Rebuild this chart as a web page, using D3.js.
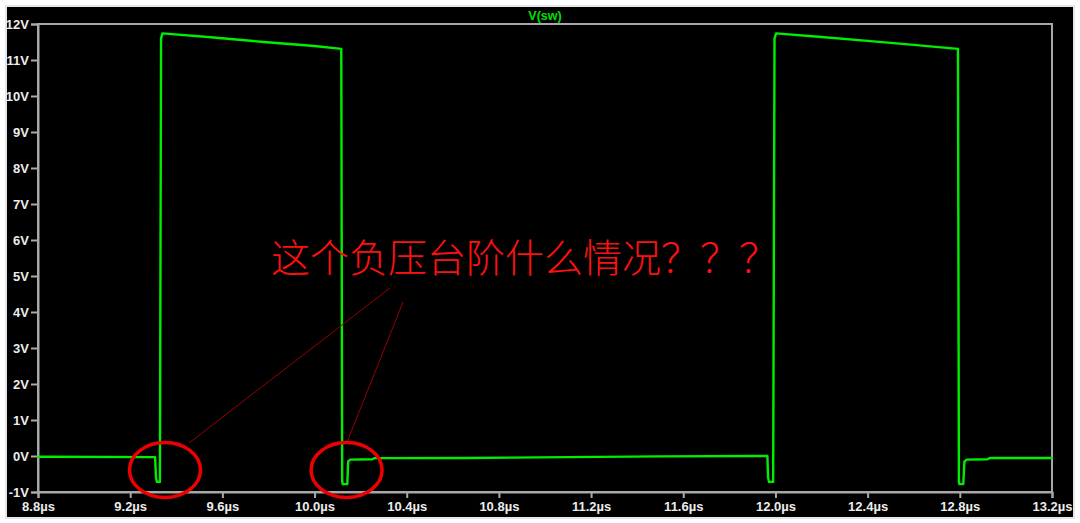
<!DOCTYPE html>
<html>
<head>
<meta charset="utf-8">
<script src="https://cdn.jsdelivr.net/npm/d3@7"></script>
<style>
html,body{margin:0;padding:0;background:#fff;}
svg{display:block;}
</style>
</head>
<body>
<svg id="c" width="1080" height="523"></svg>
<script>
// ---- data (time in µs, voltage in V) ----
const times = [8.80, 8.85, 9.308, 9.312, 9.316, 9.329, 9.334, 9.340, 9.55, 9.78, 10.00, 10.116,
               10.120, 10.122, 10.142, 10.146, 10.155, 10.25, 10.26, 10.65, 11.10, 11.50, 11.965,
               11.968, 11.972, 11.990, 11.996, 12.003, 12.20, 12.40, 12.60, 12.792,
               12.796, 12.798, 12.815, 12.820, 12.830, 12.92, 12.93, 13.20];
const volts = [-0.02, -0.02, -0.03, -0.60, -0.72, -0.72, 11.60, 11.74, 11.63, 11.50, 11.39, 11.31,
               -0.70, -0.78, -0.78, -0.15, -0.10, -0.09, -0.06, -0.055, -0.03, -0.01, 0.00,
               -0.60, -0.72, -0.72, 11.60, 11.74, 11.64, 11.53, 11.42, 11.31,
               -0.70, -0.78, -0.78, -0.15, -0.10, -0.09, -0.055, -0.055];
const yTicks = [-1,0,1,2,3,4,5,6,7,8,9,10,11,12];
const xTicks = [8.8,9.2,9.6,10.0,10.4,10.8,11.2,11.6,12.0,12.4,12.8,13.2];
const traceName = "V(sw)";
const note = "这个负压台阶什么情况？？？";
// annotation targets (time µs, voltage V) for the circled negative steps
const markTimes = [9.351, 10.139];
const markVolts = [-0.39, -0.39];

const svg = d3.select("#c");
// frame
svg.append("rect").attr("x",0).attr("y",0).attr("width",1080).attr("height",523).attr("fill","#fff");
svg.append("rect").attr("x",5).attr("y",5).attr("width",1070).attr("height",514).attr("fill","#e6e6e6");
svg.append("rect").attr("x",7).attr("y",7).attr("width",1066).attr("height",510).attr("fill","#000");

const L=38, R=1052, T=24, B=492;
const x = d3.scaleLinear().domain([8.8,13.2]).range([L,R]);
const y = d3.scaleLinear().domain([-1,12]).range([B,T]);

const axisColor="#a8a8a8";
const labelColor="#ececec";

// plot box
svg.append("rect").attr("x",L).attr("y",T).attr("width",R-L).attr("height",B-T)
  .attr("fill","none").attr("stroke",axisColor).attr("stroke-width",2);

const gy = svg.append("g").attr("transform",`translate(${L},0)`)
  .call(d3.axisLeft(y).tickValues(yTicks).tickFormat(d=>d+"V").tickSize(7).tickPadding(2));
const gx = svg.append("g").attr("transform",`translate(0,${B})`)
  .call(d3.axisBottom(x).tickValues(xTicks).tickFormat(d=>d.toFixed(1)+"µs").tickSize(6).tickPadding(4));
[gy,gx].forEach(g=>{
  g.select(".domain").attr("stroke",axisColor).attr("stroke-width",2);
  g.selectAll(".tick line").attr("stroke",axisColor).attr("stroke-width",2);
  g.selectAll(".tick text").attr("fill",labelColor)
    .style("font-family","Liberation Sans, Arial, sans-serif")
    .style("font-size","13px").style("font-weight","bold");
});

// title
svg.append("text").attr("x",545).attr("y",20).attr("text-anchor","middle")
  .attr("fill","#00e000").style("font-family","Liberation Sans, Arial, sans-serif")
  .style("font-size","12.5px").style("font-weight","bold").text(traceName);

// trace
const pts = times.map((t,i)=>[t,volts[i]]);
svg.append("path").datum(pts)
  .attr("d", d3.line().x(d=>x(d[0])).y(d=>y(d[1])))
  .attr("fill","none").attr("stroke","#00ee00").attr("stroke-width",2.4)
  .attr("stroke-linejoin","round").attr("stroke-linecap","round");

// annotation
svg.append("text").attr("x",271).attr("y",272)
  .attr("fill","#ff1010")
  .style("font-family","Noto Sans CJK SC, sans-serif")
  .style("font-size","39px").style("font-weight","300")
  .text(note);

const lineStarts=[[390,288],[403,302]];
const lineEnds=[[189,443],[347,442]];
lineStarts.forEach((s,i)=>{
  svg.append("line").attr("x1",s[0]).attr("y1",s[1]).attr("x2",lineEnds[i][0]).attr("y2",lineEnds[i][1])
    .attr("stroke","#9a0000").attr("stroke-width",1);
});
markTimes.forEach((t,i)=>{
  svg.append("ellipse").attr("cx",x(t)).attr("cy",y(markVolts[i]))
    .attr("rx",35.5).attr("ry",27.5)
    .attr("fill","none").attr("stroke","#ee0000").attr("stroke-width",3.5);
});
</script>
</body>
</html>
